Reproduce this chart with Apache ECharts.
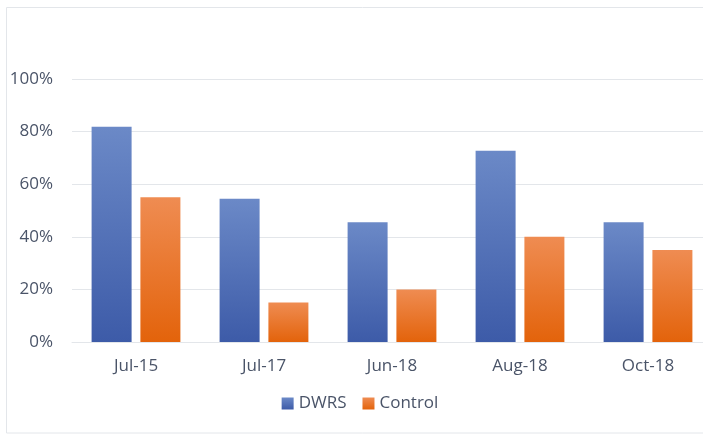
<!DOCTYPE html>
<html>
<head>
<meta charset="utf-8">
<script src="https://cdn.jsdelivr.net/npm/echarts@6/dist/echarts.min.js"></script>
<style>
  html, body { margin: 0; padding: 0; background: #fff; overflow: hidden; }
  /* the original is cropped on the right, so the canvas is wider than the window */
  #chart { width: 720px; height: 434px; }
</style>
</head>
<body>
<div id="chart"></div>
<script>
  var categories = ['Jul-15', 'Jul-17', 'Jun-18', 'Aug-18', 'Oct-18'];
  var dwrs = [81.8, 54.5, 45.5, 72.7, 45.5];
  var control = [55, 15, 20, 40, 35];
  var yTicks = [0, 20, 40, 60, 80, 100];

  var textColor = '#4a5468';
  var font = 'Open Sans';

  function grad (top, bottom) {
    return new echarts.graphic.LinearGradient(0, 0, 0, 1, [
      { offset: 0, color: top },
      { offset: 1, color: bottom }
    ]);
  }

  var chart = echarts.init(document.getElementById('chart'));
  chart.setOption({
    animation: false,
    graphic: [{
      type: 'rect',
      shape: { x: 6.5, y: 7.5, width: 712, height: 425.5 },
      style: { fill: 'none', stroke: '#e3e6ea', lineWidth: 1 },
      silent: true,
      z: -1
    }],
    grid: { left: 72, right: 8, top: 79, bottom: 92, containLabel: false },
    legend: {
      bottom: 17,
      left: 'center',
      itemWidth: 12,
      itemHeight: 12,
      itemGap: 16,
      icon: 'rect',
      textStyle: { color: textColor, fontSize: 17, fontFamily: font }
    },
    xAxis: {
      type: 'category',
      data: categories,
      axisLine: { lineStyle: { color: '#e3e6ea', width: 1 } },
      axisTick: { show: false },
      axisLabel: { color: textColor, fontSize: 17, fontFamily: font, margin: 16 }
    },
    yAxis: {
      type: 'value',
      min: yTicks[0],
      max: yTicks[yTicks.length - 1],
      interval: 20,
      axisLine: { show: false },
      axisTick: { show: false },
      axisLabel: { color: textColor, fontSize: 17, fontFamily: font, margin: 19, formatter: '{value}%' },
      splitLine: { lineStyle: { color: '#e3e6ea', width: 1 } }
    },
    series: [{
      name: 'DWRS',
      type: 'bar',
      barWidth: 40,
      barGap: '22%',
      data: dwrs,
      itemStyle: { color: grad('#6b89c7', '#3d5ba8') }
    }, {
      name: 'Control',
      type: 'bar',
      barWidth: 40,
      data: control,
      itemStyle: { color: grad('#ef8c52', '#e3630b') }
    }]
  });
</script>
</body>
</html>
